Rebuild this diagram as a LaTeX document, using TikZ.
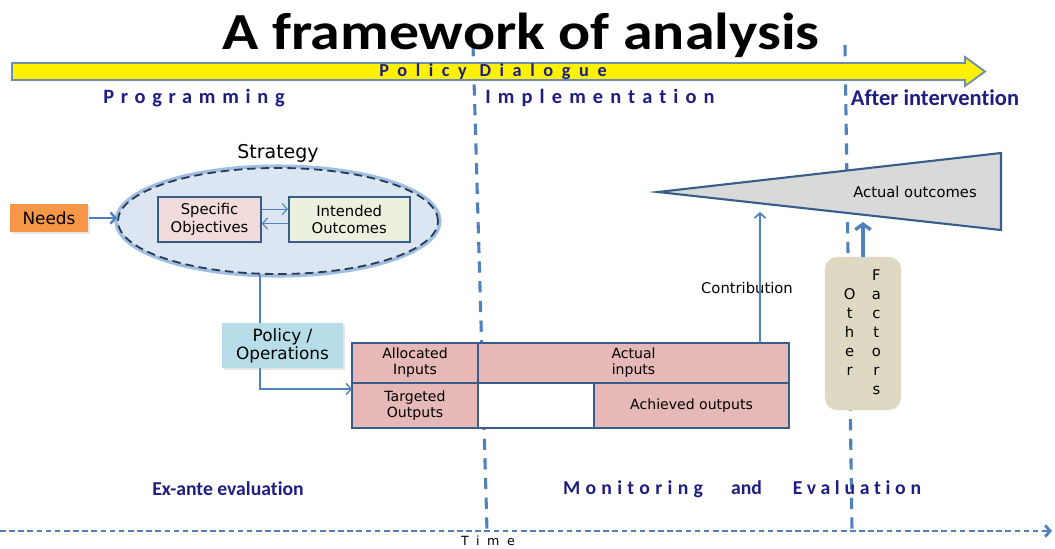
\documentclass[tikz,border=0pt]{standalone}
\usepackage{fontspec}
\setmainfont{DejaVu Sans}
\newfontfamily\headfont[Ligatures=NoCommon]{Carlito}
\usepackage{array}
\usepackage{tikz}
\usetikzlibrary{positioning}
\usetikzlibrary{shapes.geometric}
\usetikzlibrary{arrows.meta}
\usetikzlibrary{shadows}

\definecolor{lineblue}{RGB}{79,129,189}
\definecolor{boxedge}{RGB}{56,93,138}
\definecolor{navytext}{RGB}{30,30,130}
\definecolor{needsfill}{RGB}{247,150,70}
\definecolor{objfill}{RGB}{242,220,219}
\definecolor{outfill}{RGB}{235,241,222}
\definecolor{stratfill}{RGB}{220,230,242}
\definecolor{stratglow}{RGB}{160,190,225}
\definecolor{stratedge}{RGB}{40,60,90}
\definecolor{policyfill}{RGB}{183,222,232}
\definecolor{tablefill}{RGB}{230,185,184}
\definecolor{outcomefill}{RGB}{217,217,217}
\definecolor{factorfill}{RGB}{221,217,195}
\definecolor{arrowedge}{RGB}{110,140,180}

\tikzset{
  box/.style={draw=boxedge, line width=1.2pt, align=center, inner sep=0pt,
    font=\fontsize{10.5}{12.5}\selectfont},
  cell/.style={box, fill=tablefill, outer sep=0pt, font=\fontsize{10}{11.5}\selectfont},
  phase/.style={font=\headfont\bfseries\fontsize{14.5}{16}\selectfont, text=navytext},
  flow/.style={draw=lineblue, line width=1pt},
  barb/.style={-{Straight Barb[length=3.5pt,width=8pt]}},
  divider/.style={draw=lineblue, line width=2.2pt, dash pattern=on 8pt off 6pt},
  timeline/.style={draw=lineblue, line width=2pt, dash pattern=on 4pt off 2.5pt}
}

\begin{document}
\begin{tikzpicture}[x=0.025cm, y=-0.025cm]
\useasboundingbox (0,0) rectangle (1055,548);

% phase dividers, behind everything
\draw[divider] (473,45) -- (487,530);
\draw[divider] (845,45) -- (852,530);

% time axis
\draw[timeline, barb] (0,531) -- (1052,531);
\node[font=\fontsize{9}{10}\selectfont, inner sep=1pt] (time) at (488,541)
  {\addfontfeature{LetterSpace=60}Time};

% title
\node[font=\headfont\bfseries\fontsize{37}{40}\selectfont, xscale=1.15] (title) at (521,35)
  {A framework of analysis};

% policy dialogue arrow
\draw[draw=arrowedge, fill=yellow, line width=1.3pt]
  (12,63) -- (965,63) -- (965,57) -- (985,71.5) -- (965,86) -- (965,80) -- (12,80) -- cycle;
\node[phase, font=\headfont\bfseries\fontsize{13}{14}\selectfont] (dialogue) at (493,72)
  {\addfontfeature{LetterSpace=47}Policy\hspace{9pt}Dialogue};

% phases
\node[phase] (programming) at (194,98) {\addfontfeature{LetterSpace=33}Programming};
\node[phase] (implementation) at (600,98) {\addfontfeature{LetterSpace=35}Implementation};
\node[phase, font=\headfont\bfseries\fontsize{16}{18}\selectfont] (after) at (935,98) {After intervention};

% strategy
\node[ellipse, draw=stratedge, fill=stratfill, line width=1.3pt, dash pattern=on 6pt off 3.5pt,
  preaction={draw=stratglow, line width=5pt, solid},
  minimum width=8cm, minimum height=2.65cm, inner sep=0pt] (strategy) at (278,221) {};
\node[font=\fontsize{13.5}{15}\selectfont, above=0pt of strategy] (strategylabel) {Strategy};

\node[box, fill=objfill, minimum width=2.575cm, minimum height=1.125cm] (objectives) at (209.5,219.5)
  {Specific\\Objectives};
\node[box, fill=outfill, minimum width=3.025cm, minimum height=1.125cm, right=0.65cm of objectives] (outcomes)
  {Intended\\Outcomes};
\draw[flow, line width=0.8pt, barb] ([yshift=0.26cm]objectives.east) -- ([yshift=0.26cm]outcomes.west);
\draw[flow, line width=0.8pt, barb] ([yshift=-0.1cm]outcomes.west) -- ([yshift=-0.1cm]objectives.east);

% needs
\node[box, draw=none, fill=needsfill, drop shadow={opacity=0.2, shadow xshift=0.05cm, shadow yshift=-0.05cm},
  minimum width=1.95cm, minimum height=0.7cm,
  font=\fontsize{12}{14}\selectfont] (needs) at (49,218) {Needs};
\draw[flow, line width=1.7pt, barb] (needs.east) -- (needs.east -| strategy.west);

% inputs and outputs
\node[cell, minimum width=3.15cm, minimum height=1cm] (alloc) at (415,363) {Allocated\\Inputs};
\node[cell, minimum width=7.775cm, minimum height=1cm, right=0pt of alloc] (actin) {Actual\\inputs};
\node[cell, minimum width=3.15cm, minimum height=1.125cm, below=0pt of alloc] (target) {Targeted\\Outputs};
\node[cell, fill=white, minimum width=2.9cm, minimum height=1.125cm, right=0pt of target] (blank) {};
\node[cell, minimum width=4.875cm, minimum height=1.125cm, right=0pt of blank] (achieved) {Achieved outputs};

% strategy to allocated inputs
\coordinate (bend) at (260,389);
\draw[flow, barb] (strategy.south -| bend) |- (alloc.west |- bend);
\node[box, draw=none, fill=policyfill, drop shadow={opacity=0.2, shadow xshift=0.05cm, shadow yshift=-0.05cm},
  minimum width=3.025cm, minimum height=1.125cm,
  font=\fontsize{12}{13}\selectfont] (policy) at (282.5,345.5) {Policy /\\Operations};

% actual outcomes
\draw[draw=boxedge, line width=1.5pt, fill=outcomefill] (658,192) -- (1001,153) -- (1001,230) -- cycle;
\node[font=\fontsize{10.5}{12}\selectfont] (actual) at (915,192) {Actual outcomes};

\node[font=\fontsize{10.5}{12}\selectfont] (contribution) at (747,288) {Contribution};
\coordinate (contribtip) at (760,212);
\draw[flow, line width=1.2pt, barb] (actin.north -| contribtip) -- (contribtip);

% other factors
\node[fill=factorfill, rounded corners=0.3cm, minimum width=1.9cm, minimum height=3.825cm, inner sep=0pt,
  font=\fontsize{10.5}{13.5}\selectfont] (factors) at (863,333.5)
  {\begin{tabular}{@{}w{c}{8pt}@{\hspace{11pt}}w{c}{8pt}@{}}
    & F\\ O & a\\ t & c\\ h & t\\ e & o\\ r & r\\ & s
  \end{tabular}};
\coordinate (factortip) at (863,222);
\draw[flow, line width=2.4pt, -{Straight Barb[length=4pt,width=11pt]}] (factors.north) -- (factortip);

% evaluation
\node[phase, font=\headfont\bfseries\fontsize{14}{16}\selectfont] (exante) at (228,489) {Ex-ante evaluation};
\node[phase, font=\headfont\bfseries\fontsize{14}{16}\selectfont] (monitoring) at (742,489)
  {{\addfontfeature{LetterSpace=27}Monitoring}\hspace{20pt}and\hspace{22pt}{\addfontfeature{LetterSpace=24}Evaluation}};

\end{tikzpicture}
\end{document}
